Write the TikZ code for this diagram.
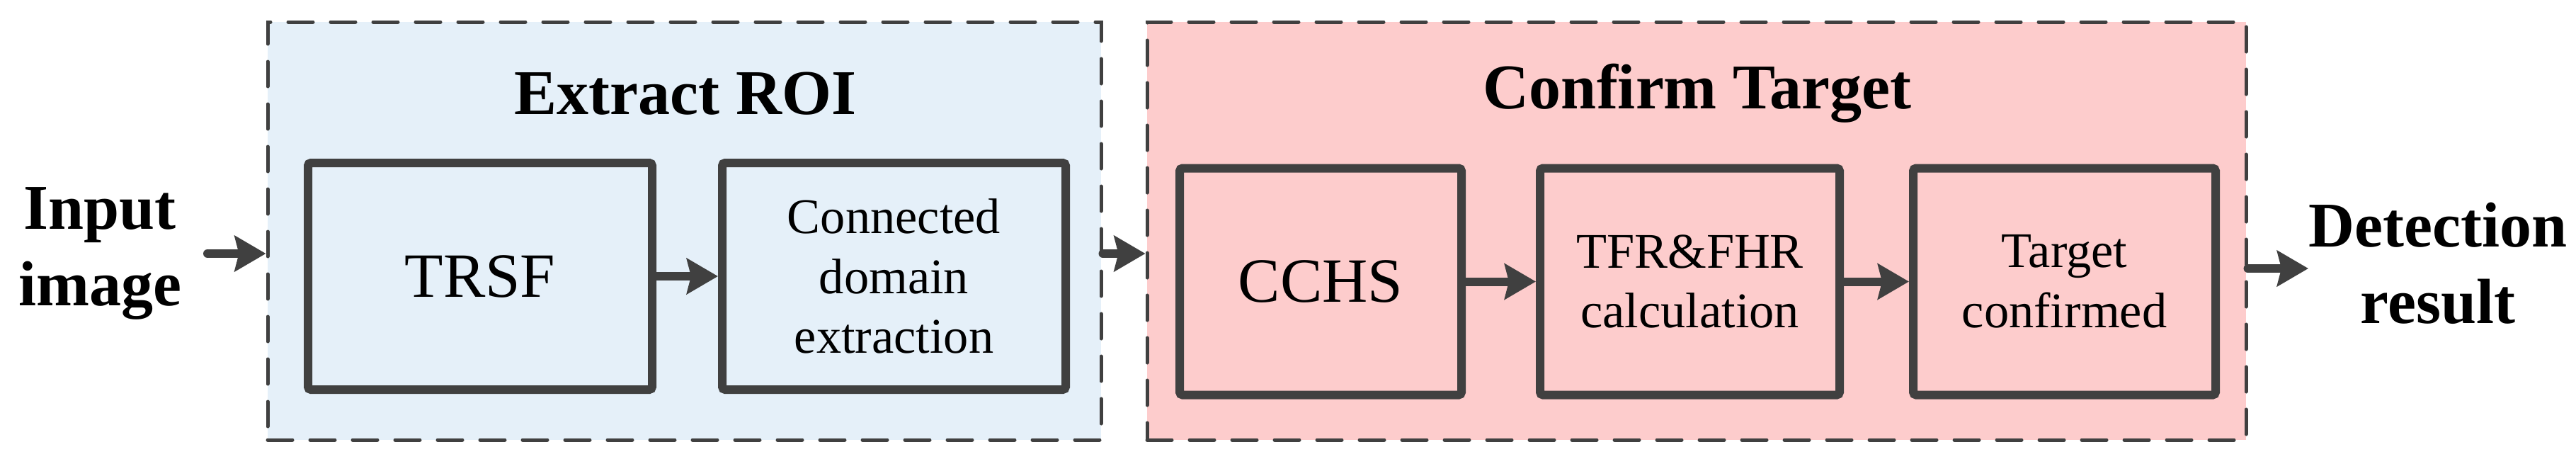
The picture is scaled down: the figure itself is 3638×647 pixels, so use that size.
\documentclass[tikz,border=0pt]{standalone}
\usepackage{fontspec}
\setmainfont{Liberation Serif}
\usetikzlibrary{arrows.meta}
\definecolor{edgegray}{RGB}{64,64,64}
\definecolor{roiblue}{RGB}{229,240,249}
\definecolor{tgtpink}{RGB}{253,204,204}

\begin{document}
\begin{tikzpicture}[x = 0.25pt, y = -0.25pt,
	stage/.style = {draw = edgegray, line width = 1.25pt, dash pattern = on 8.75pt off 6.25pt, line cap = round, minimum height = 147.5pt, inner sep = 0pt},
	blk/.style = {draw = edgegray, line width = 3pt, rounded corners = 1pt, minimum height = 80pt, inner sep = 0pt, align = center},
	flow/.style = {draw = edgegray, line width = 3pt, line cap = round, -{Stealth[length = 11pt, width = 12.5pt, inset = 1.5pt]}},
	ttl/.style = {font = \bfseries\fontsize{22.5}{27}\selectfont, align = center, inner sep = 0pt},
	big/.style = {font = \fontsize{22.25}{26.7}\selectfont},
	small/.style = {font = \fontsize{17.6}{21.2}\selectfont}]
	\useasboundingbox (0, 0) rectangle (3638, 647);
	\node[stage, fill = roiblue, minimum width = 294.25pt] (roi) at (966.5, 326) {};
	\node[stage, fill = tgtpink, minimum width = 388pt] (tgt) at (2396, 326) {};
	\node[ttl, anchor = base] (roititle) at (968, 161) {Extract ROI};
	\node[ttl, anchor = base] (tgttitle) at (2397, 153) {Confirm Target};
	\node[blk, big, minimum width = 121.5pt] (trsf) at (678, 390) {TRSF};
	\node[blk, small, minimum width = 121.25pt] (conn) at (1262.5, 390) {Connected\\domain\\extraction};
	\node[blk, big, minimum width = 99.5pt] (cchs) at (1865, 397.5) {CCHS};
	\node[blk, small, minimum width = 105.75pt] (tfr) at (2386.5, 397.5) {TFR\&FHR\\calculation};
	\node[blk, small, minimum width = 106.75pt] (conf) at (2915.5, 397.5) {Target\\confirmed};
	\node[ttl] (input) at (141, 357.6) {Input\\image};
	\node[ttl] (result) at (3443, 371.5) {Detection\\result};
	\coordinate (instart) at (293, 358);
	\coordinate (outend) at (3260, 379);
	\draw[flow] (instart) -- (instart -| roi.west);
	\draw[flow] (trsf.east) -- (conn.west);
	\draw[flow] (roi.east |- instart) -- (tgt.west |- instart);
	\draw[flow] (cchs.east) -- (tfr.west);
	\draw[flow] (tfr.east) -- (conf.west);
	\draw[flow] (tgt.east |- outend) -- (outend);
\end{tikzpicture}
\end{document}
